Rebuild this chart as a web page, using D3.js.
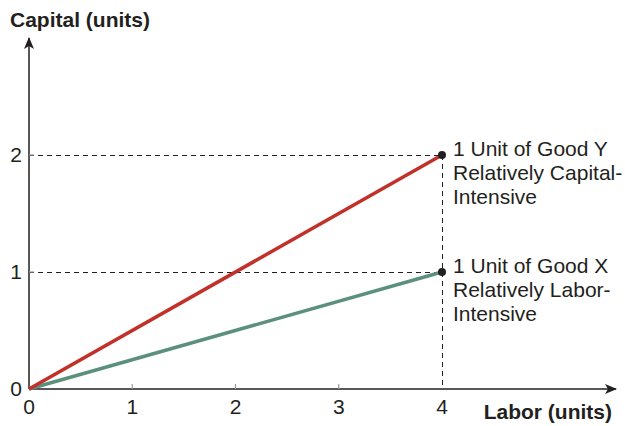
<!DOCTYPE html>
<html>
<head>
<meta charset="utf-8">
<script src="https://cdn.jsdelivr.net/npm/d3@7"></script>
<style>
body { margin: 0; background: #fff; }
text { font-family: "Liberation Sans", Arial, sans-serif; fill: #231f20; }
</style>
</head>
<body>
<div class="chart"></div>
<script>
var xTicks = [0, 1, 2, 3, 4];
var yTicks = [0, 1, 2];
var goodY = [{labor: 0, capital: 0}, {labor: 4, capital: 2}];
var goodX = [{labor: 0, capital: 0}, {labor: 4, capital: 1}];
var labelY = ["1 Unit of Good Y", "Relatively Capital-", "Intensive"];
var labelX = ["1 Unit of Good X", "Relatively Labor-", "Intensive"];

var svg = d3.select("body div.chart").append("svg").attr("width", 625).attr("height", 426);

var x = d3.scaleLinear().domain([0, 4]).range([29, 442]);
var y = d3.scaleLinear().domain([0, 2]).range([389, 155]);

var defs = svg.append("defs");
defs.append("marker").attr("id", "arrow")
    .attr("viewBox", "0 0 12 10").attr("refX", 11).attr("refY", 5)
    .attr("markerWidth", 12).attr("markerHeight", 10)
    .attr("markerUnits", "userSpaceOnUse").attr("orient", "auto")
  .append("path").attr("d", "M0,0 L12,5 L0,10 L3,5 Z").attr("fill", "#231f20");

// dashed guides
var ends = [goodY[1], goodX[1]];
svg.selectAll("line.hguide").data(ends).enter().append("line")
    .attr("class", "hguide")
    .attr("x1", x(0)).attr("x2", function(d) { return x(d.labor); })
    .attr("y1", function(d) { return y(d.capital) + 0.5; }).attr("y2", function(d) { return y(d.capital) + 0.5; })
    .attr("stroke", "#231f20").attr("stroke-width", 1).attr("stroke-dasharray", "5,4");
svg.append("line")
    .attr("x1", x(4) + 0.5).attr("x2", x(4) + 0.5).attr("y1", y(2)).attr("y2", y(0))
    .attr("stroke", "#231f20").attr("stroke-width", 1).attr("stroke-dasharray", "5,4");

// axes
svg.append("line").attr("x1", x(0)).attr("y1", y(0)).attr("x2", x(0)).attr("y2", 38)
    .attr("stroke", "#231f20").attr("stroke-width", 1.5).attr("marker-end", "url(#arrow)");
svg.append("line").attr("x1", x(0)).attr("y1", y(0)).attr("x2", 616).attr("y2", y(0))
    .attr("stroke", "#231f20").attr("stroke-width", 1.5).attr("marker-end", "url(#arrow)");

// tick marks
svg.selectAll("line.xtick").data(xTicks.slice(1, 4)).enter().append("line")
    .attr("class", "xtick")
    .attr("x1", function(d) { return x(d); }).attr("x2", function(d) { return x(d); })
    .attr("y1", y(0)).attr("y2", y(0) - 5)
    .attr("stroke", "#999").attr("stroke-width", 1.2);
svg.selectAll("line.ytick").data(yTicks.slice(1)).enter().append("line")
    .attr("class", "ytick")
    .attr("x1", x(0)).attr("x2", x(0) + 5)
    .attr("y1", function(d) { return y(d); }).attr("y2", function(d) { return y(d); })
    .attr("stroke", "#999").attr("stroke-width", 1.2);

// tick labels
svg.selectAll("text.xlab").data(xTicks).enter().append("text")
    .attr("class", "xlab")
    .attr("x", function(d) { return x(d); }).attr("y", 414)
    .attr("text-anchor", "middle").attr("font-size", 21)
    .text(function(d) { return d; });
svg.selectAll("text.ylab").data(yTicks).enter().append("text")
    .attr("class", "ylab")
    .attr("x", 22).attr("y", function(d) { return y(d) + 7; })
    .attr("text-anchor", "end").attr("font-size", 21)
    .text(function(d) { return d; });

// axis titles
svg.append("text").attr("x", 10).attr("y", 27).attr("font-size", 21).attr("font-weight", "bold")
    .text("Capital (units)");
svg.append("text").attr("x", 612).attr("y", 419).attr("text-anchor", "end")
    .attr("font-size", 21).attr("font-weight", "bold").text("Labor (units)");

// lines
var line = d3.line().x(function(d) { return x(d.labor); }).y(function(d) { return y(d.capital); });
svg.append("path").attr("d", line(goodX)).attr("fill", "none")
    .attr("stroke", "#5b917c").attr("stroke-width", 3.5);
svg.append("path").attr("d", line(goodY)).attr("fill", "none")
    .attr("stroke", "#c1312a").attr("stroke-width", 3.5);

svg.selectAll("circle.end").data(ends).enter().append("circle")
    .attr("class", "end")
    .attr("cx", function(d) { return x(d.labor); }).attr("cy", function(d) { return y(d.capital); })
    .attr("r", 4).attr("fill", "#231f20");

// annotations
function annotate(lines, d) {
  var t = svg.append("text").attr("font-size", 21);
  t.selectAll("tspan").data(lines).enter().append("tspan")
      .attr("x", 453)
      .attr("y", function(s, i) { return y(d.capital) + 1 + i * 23.8; })
      .text(function(s) { return s; });
}
annotate(labelY, goodY[1]);
annotate(labelX, goodX[1]);
</script>
</body>
</html>
